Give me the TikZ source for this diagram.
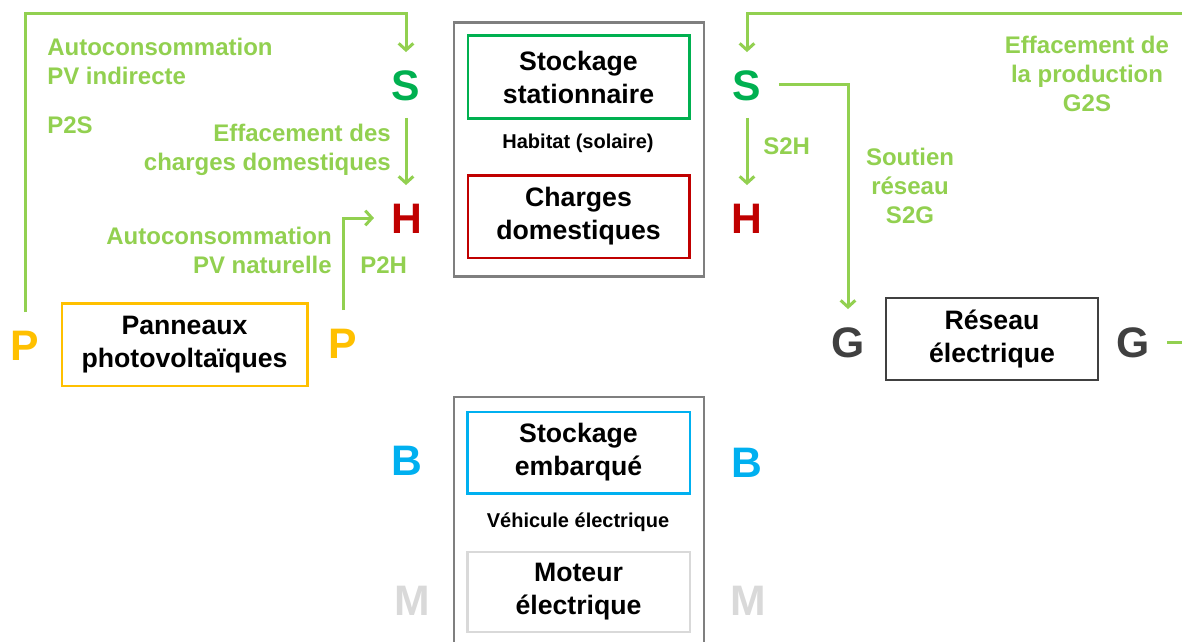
\documentclass[tikz,border=0pt]{standalone}
\usepackage{fontspec}
\setmainfont{Liberation Sans}
\usetikzlibrary{arrows.meta}
\definecolor{flowgreen}{HTML}{92D050}
\definecolor{stgreen}{HTML}{00B050}
\definecolor{homered}{HTML}{C00000}
\definecolor{pvorange}{HTML}{FFC000}
\definecolor{gridgray}{HTML}{404040}
\definecolor{evblue}{HTML}{00B0F0}
\definecolor{motgray}{HTML}{D9D9D9}
\definecolor{boxgray}{HTML}{7F7F7F}
\tikzset{
  flow/.style={draw=flowgreen,line width=2.25pt,-{Straight Barb[length=5pt,width=11pt]}},
  lbl/.style={text=flowgreen,font=\fontsize{18}{21.75}\selectfont\bfseries,inner sep=0pt},
  letter/.style={font=\fontsize{32}{32}\selectfont\bfseries,inner sep=13pt,text height=23pt,text depth=0pt},
  unit/.style={draw,line width=2pt,font=\fontsize{20}{24.75}\selectfont\bfseries,align=center,inner sep=0pt},
  frame/.style={draw=boxgray,line width=2pt,minimum width=187.5pt,minimum height=190pt},
  small/.style={font=\fontsize{15}{18}\selectfont\bfseries,inner sep=0pt}
}
\begin{document}
\begin{tikzpicture}[x=0.75pt,y=-0.75pt]
\useasboundingbox (0,0) rectangle (1182,642);
\clip (0,0) rectangle (1182,642);
% habitat
\node[frame] (habitat) at (579,149.5) {};
\node[unit,draw=stgreen,minimum width=166pt,minimum height=62pt] (stat) at (578.5,77) {Stockage\\stationnaire};
\node[small] (habtxt) at (578,143) {Habitat (solaire)};
\node[unit,draw=homered,minimum width=166pt,minimum height=62pt] (dom) at (578.5,216.5) {Charges\\domestiques};
% vehicule
\node[frame] (vehicle) at (579,523.5) {};
\node[unit,draw=evblue,minimum width=167pt,minimum height=61pt] (emb) at (578.5,452.5) {Stockage\\embarqué};
\node[small] (vetxt) at (578,522) {Véhicule électrique};
\node[unit,draw=motgray,minimum width=167pt,minimum height=60pt] (mot) at (578.5,592) {Moteur\\électrique};
% production et reseau
\node[unit,draw=pvorange,minimum width=184pt,minimum height=62pt] (pv) at (184.5,344.5) {Panneaux\\photovoltaïques};
\node[unit,draw=gridgray,minimum width=159pt,minimum height=61.5pt] (grid) at (992,339) {Réseau\\électrique};
% lettres
\foreach \nm/\X/\Y/\txt/\col in {sL/406/85/S/stgreen,hL/407/218/H/homered,
  sR/747/85/S/stgreen,hR/747/218/H/homered,pL/25/345/P/pvorange,pR/343/343/P/pvorange,
  gL/848/342/G/gridgray,gR/1133/342/G/gridgray,bL/407/460/B/evblue,bR/747/462/B/evblue,
  mL/412/600/M/motgray,mR/748/600/M/motgray}
  \node[letter,text=\col] (\nm) at (\X,\Y) {\txt};
% flux
\coordinate (top) at (0,14);
\coordinate (edge) at (1195,14);
\draw[flow] (pL.north) |- (top -| sL.north) -- (sL.north);
\draw[flow] (sL.south) -- (sL.south |- hL.north);
\draw[flow] (pR.north) |- (hL.west);
\draw[flow] (sR.south) -- (sR.south |- hR.north);
\draw[flow] (sR.east) -| (gL.north);
\draw[flow] (gR.east) -| (edge) -| (sR.north);
% etiquettes
\node[lbl,anchor=west,align=left] (indirecte) at (47,61.5) {Autoconsommation\\PV indirecte};
\node[lbl,anchor=west] (ptos) at (47,125) {P2S};
\node[lbl,anchor=east,align=right] (effcharges) at (391,149.5) {Effacement des\\charges domestiques};
\node[lbl,anchor=east,align=right] (naturelle) at (332,250.5) {Autoconsommation\\PV naturelle};
\node[lbl,anchor=west] (ptoh) at (360,265) {P2H};
\node[lbl,anchor=west] (stoh) at (763,146) {S2H};
\node[lbl,align=center] (stog) at (910,186) {Soutien\\réseau\\S2G};
\node[lbl,align=center] (gtos) at (1087,74) {Effacement de\\la production\\G2S};
\end{tikzpicture}
\end{document}
